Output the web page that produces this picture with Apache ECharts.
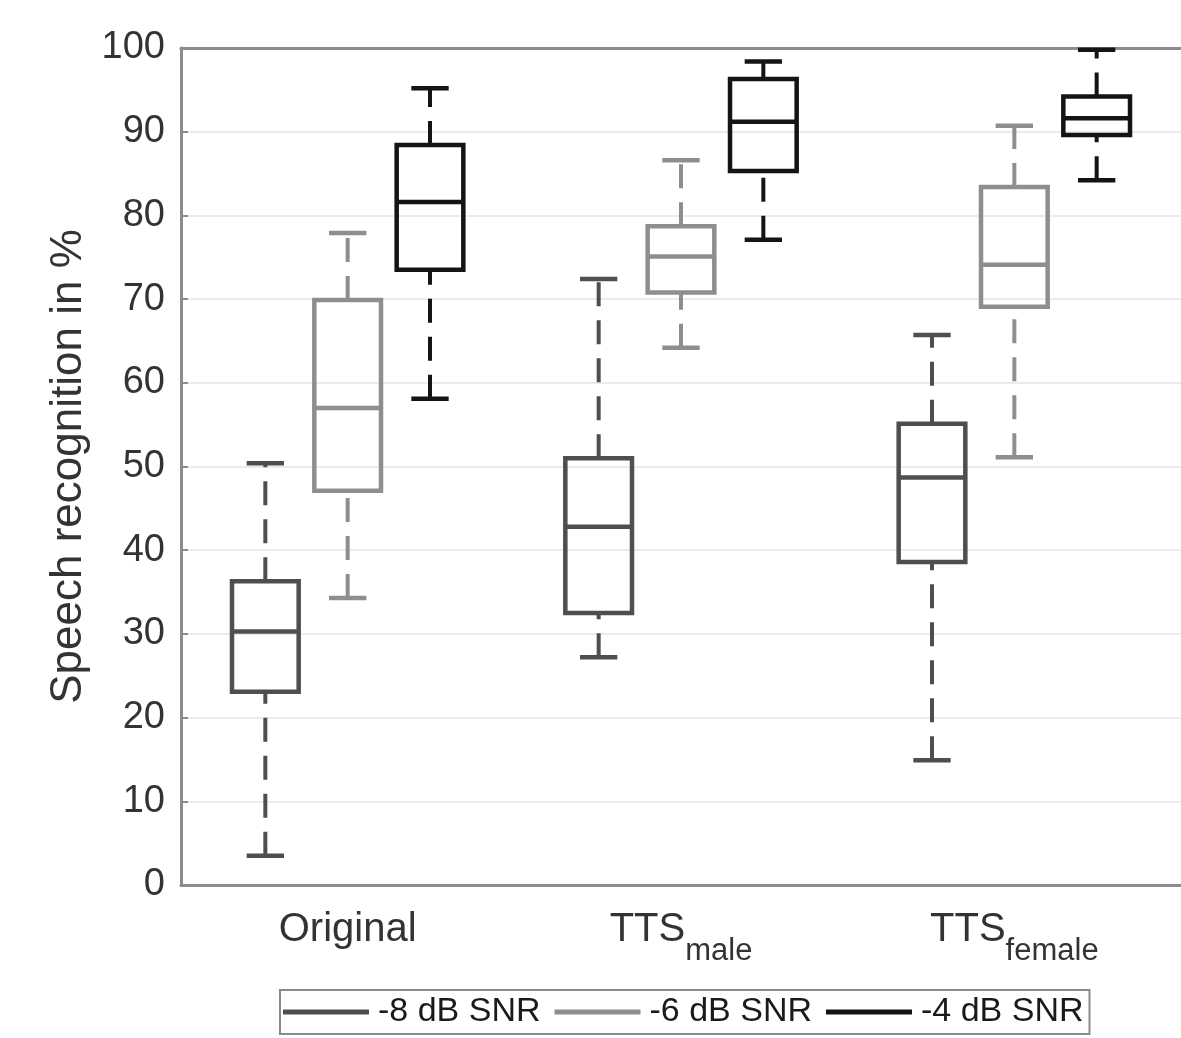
<!DOCTYPE html>
<html lang="en">

<head>
  <meta charset="UTF-8" />
  <title>Speech recognition box plot</title>
  <script src="https://cdn.jsdelivr.net/npm/echarts@6.0.0/dist/echarts.min.js"></script>
  <style>
    html,
    body {
      margin: 0;
      padding: 0;
      background: #fff;
    }

    #chart {
      width: 1181px;
      height: 1038px;
    }
  </style>
</head>

<body>
  <div id="chart"></div>

  <script>
    // categories (main text + subscript)
    const labelMain = ['Original', 'TTS', 'TTS'];
    const labelSub = ['', 'male', 'female'];
    const yTicks = [0, 10, 20, 30, 40, 50, 60, 70, 80, 90, 100];

    const seriesNames = ['-8 dB SNR', '-6 dB SNR', '-4 dB SNR'];
    const seriesColors = ['#4e4e4e', '#8e8e8e', '#141414'];

    // [min, q1, median, q3, max] per category
    const snrMinus8 = [
      [3.5, 23.1, 30.3, 36.3, 50.4],
      [27.2, 32.5, 42.8, 51.0, 72.4],
      [14.9, 38.6, 48.7, 55.1, 65.7]
    ];
    const snrMinus6 = [
      [34.3, 47.1, 57.0, 69.9, 77.9],
      [64.2, 70.8, 75.1, 78.7, 86.6],
      [51.1, 69.1, 74.1, 83.4, 90.7]
    ];
    const snrMinus4 = [
      [58.1, 73.5, 81.6, 88.4, 95.2],
      [77.1, 85.3, 91.2, 96.3, 98.4],
      [84.2, 89.6, 91.6, 94.2, 99.8]
    ];

    const allStats = [snrMinus8, snrMinus6, snrMinus4];
    const font = "'Liberation Sans', Arial, sans-serif";

    const chart = echarts.init(document.getElementById('chart'));

    // draws one box with dashed whiskers, offset inside the category band
    function makeRender(seriesIdx, color) {
      return function (params, api) {
        const cat = api.value(0);
        const band = api.size([1, 0])[0];
        const cx = api.coord([cat, 0])[0] + (seriesIdx - 1) * 0.247 * band;
        const boxW = 0.2 * band;
        const capW = 0.112 * band;
        const y = [1, 2, 3, 4, 5].map(i => api.coord([cat, api.value(i)])[1]);
        const solid = { stroke: color, lineWidth: 4.5, fill: null };
        const dashed = { stroke: color, lineWidth: 4, lineDash: [24, 14], fill: null };
        return {
          type: 'group',
          children: [
            { type: 'line', shape: { x1: cx, y1: y[0], x2: cx, y2: y[1] }, style: dashed },
            { type: 'line', shape: { x1: cx, y1: y[3], x2: cx, y2: y[4] }, style: dashed },
            { type: 'line', shape: { x1: cx - capW / 2, y1: y[0], x2: cx + capW / 2, y2: y[0] }, style: solid },
            { type: 'line', shape: { x1: cx - capW / 2, y1: y[4], x2: cx + capW / 2, y2: y[4] }, style: solid },
            { type: 'rect', shape: { x: cx - boxW / 2, y: y[3], width: boxW, height: y[1] - y[3] }, style: solid },
            { type: 'line', shape: { x1: cx - boxW / 2, y1: y[2], x2: cx + boxW / 2, y2: y[2] }, style: solid }
          ]
        };
      };
    }

    const axisColor = '#8c8c8c';

    const option = {
      animation: false,
      grid: {
        left: 181,
        top: 48,
        bottom: 153,
        width: 1016
      },
      legend: {
        data: seriesNames,
        left: 280,
        top: 990,
        orient: 'horizontal',
        icon: 'rect',
        itemWidth: 86,
        itemHeight: 5,
        itemGap: 14,
        padding: [5, 6, 5, 3],
        borderColor: '#8a8a8a',
        borderWidth: 2,
        textStyle: {
          fontFamily: font,
          fontSize: 34,
          color: '#1a1a1a',
          padding: [0, 0, 0, 4]
        }
      },
      xAxis: [
        {
          type: 'category',
          data: labelMain,
          position: 'bottom',
          axisLine: { lineStyle: { color: axisColor, width: 3 } },
          axisTick: { inside: true, alignWithLabel: true, length: 7, lineStyle: { color: axisColor, width: 2 } },
          splitLine: { show: false },
          axisLabel: {
            margin: 25,
            formatter: function (value, idx) {
              return labelSub[idx] ? '{a|' + value + '}{b|' + labelSub[idx] + '}' : '{a|' + value + '}';
            },
            rich: {
              a: { fontFamily: font, fontSize: 40, lineHeight: 40, color: '#333', verticalAlign: 'top' },
              b: { fontFamily: font, fontSize: 31, lineHeight: 31, color: '#333', verticalAlign: 'top', padding: [26, 0, 0, 0] }
            }
          }
        },
        {
          type: 'category',
          data: labelMain,
          position: 'top',
          axisLine: { lineStyle: { color: axisColor, width: 3 } },
          axisTick: { inside: true, alignWithLabel: true, length: 7, lineStyle: { color: axisColor, width: 2 } },
          axisLabel: { show: false },
          splitLine: { show: false }
        }
      ],
      yAxis: {
        type: 'value',
        min: yTicks[0],
        max: yTicks[yTicks.length - 1],
        interval: 10,
        name: 'Speech recognition in %',
        nameLocation: 'middle',
        nameGap: 76,
        nameTextStyle: { fontFamily: font, fontSize: 44, color: '#333' },
        axisLine: { show: true, lineStyle: { color: axisColor, width: 3 } },
        axisTick: { show: true, inside: true, length: 7, lineStyle: { color: axisColor, width: 2 } },
        axisLabel: { margin: 16, fontFamily: font, fontSize: 38, color: '#333' },
        splitLine: { show: true, lineStyle: { color: '#ebebeb', width: 2 } }
      },
      series: allStats.map((stats, s) => ({
        name: seriesNames[s],
        type: 'custom',
        xAxisIndex: 0,
        itemStyle: { color: seriesColors[s] },
        encode: { x: 0, y: [1, 2, 3, 4, 5] },
        data: stats.map((row, i) => [i].concat(row)),
        renderItem: makeRender(s, seriesColors[s]),
        z: 3 + s
      }))
    };

    chart.setOption(option);
  </script>
</body>

</html>
